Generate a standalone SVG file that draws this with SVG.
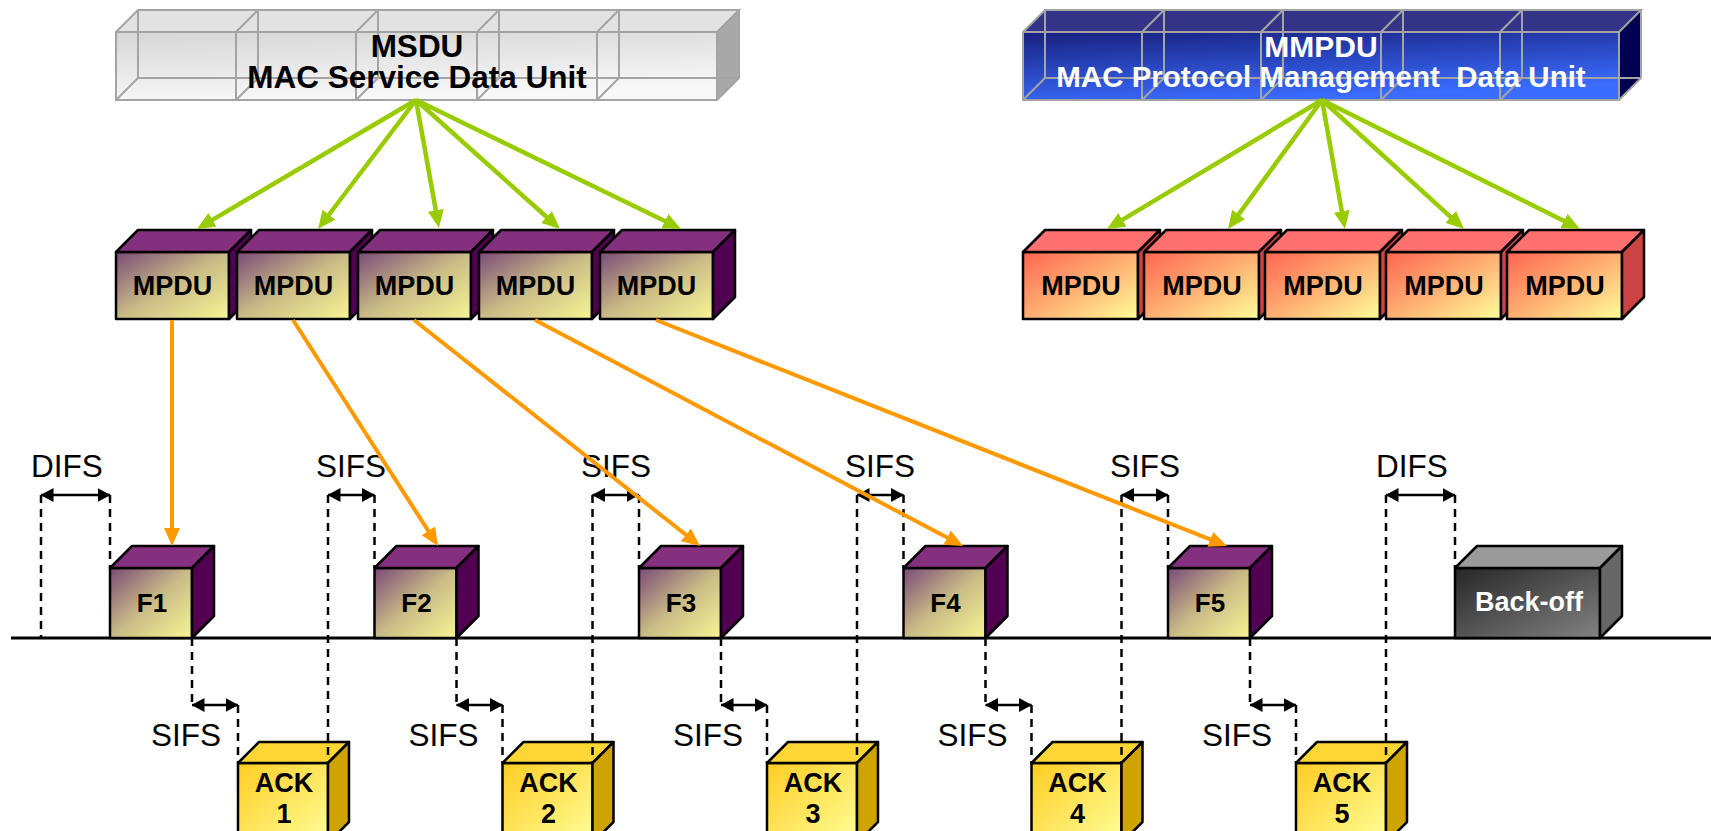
<svg xmlns="http://www.w3.org/2000/svg" width="1711" height="831" viewBox="0 0 1711 831">
<style>
.e{stroke:#000;stroke-width:2.5;stroke-linejoin:round}
.b{font-family:'Liberation Sans',Arial,sans-serif;font-weight:bold;text-anchor:middle}
.t{font-family:'Liberation Sans',Arial,sans-serif;font-size:31.5px;text-anchor:middle;fill:#000}
.dash{stroke:#000;stroke-width:2.5;stroke-dasharray:8 6;fill:none}
.dim{stroke:#000;stroke-width:2.5;fill:none;marker-start:url(#dimA);marker-end:url(#dimA)}
.gr{stroke:#99cc00;stroke-width:4.5;fill:none;marker-end:url(#gA)}
.or{stroke:#ff9900;stroke-width:4;fill:none;marker-end:url(#oA)}
.wire{stroke:#a4a4a4;stroke-width:2;fill:none}
.pf{fill:url(#pF)}.pt{fill:#84307f}.ps{fill:#520052}
.rf{fill:url(#rF)}.rt{fill:#ff7070}.rs{fill:#cc4444}
.af{fill:url(#aF)}.at{fill:#ffd633}.as{fill:#d0a400}
.mp{font-size:27px;fill:#000}
</style>
<defs>
<linearGradient id="pF" x1="0" y1="0" x2="1" y2="1"><stop offset="0" stop-color="#7a4a78"/><stop offset="0.5" stop-color="#c9bb86"/><stop offset="1" stop-color="#f8f594"/></linearGradient>
<linearGradient id="rF" x1="0" y1="0" x2="1" y2="1"><stop offset="0" stop-color="#ff6450"/><stop offset="0.5" stop-color="#ffae72"/><stop offset="1" stop-color="#ffff99"/></linearGradient>
<linearGradient id="aF" x1="0" y1="0" x2="1" y2="1"><stop offset="0" stop-color="#ffcc22"/><stop offset="1" stop-color="#ffff99"/></linearGradient>
<linearGradient id="kF" x1="0" y1="0" x2="1" y2="1"><stop offset="0" stop-color="#262626"/><stop offset="1" stop-color="#828282"/></linearGradient>
<linearGradient id="sF" x1="0" y1="0" x2="0.3" y2="1"><stop offset="0" stop-color="#d6d6d6"/><stop offset="1" stop-color="#f8f8f8"/></linearGradient>
<linearGradient id="mF" x1="0" y1="0" x2="0.4" y2="1"><stop offset="0" stop-color="#18207e"/><stop offset="1" stop-color="#3a6cff"/></linearGradient>
<marker id="gA" markerUnits="userSpaceOnUse" markerWidth="18" markerHeight="16" viewBox="0 0 18 16" refX="8" refY="8" orient="auto"><path d="M0,0L18,8L0,16z" fill="#99cc00"/></marker>
<marker id="oA" markerUnits="userSpaceOnUse" markerWidth="18" markerHeight="16" viewBox="0 0 18 16" refX="8" refY="8" orient="auto"><path d="M0,0L18,8L0,16z" fill="#ff9900"/></marker>
<marker id="dimA" markerUnits="userSpaceOnUse" markerWidth="13" markerHeight="14" viewBox="0 0 13 14" refX="12.5" refY="7" orient="auto-start-reverse"><path d="M0,0L13,7L0,14z" fill="#000"/></marker>
</defs>
<rect width="1711" height="831" fill="#fff"/>

<!-- timeline -->
<g id="timeline"><line x1="11" y1="638" x2="1711" y2="638" stroke="#000" stroke-width="3"/></g>

<!-- MSDU -->
<g id="msdu">
<rect x="116" y="32" width="601" height="68" fill="url(#sF)"/>
<polygon points="116,32 138,10 739,10 717,32" fill="#e2e2e2"/>
<polygon points="717,32 739,10 739,78 717,100" fill="#a8a8a8"/>
<path class="wire" d="M236,32V100M356,32V100M477,32V100M597,32V100M138,10V78M258,10V78M378,10V78M499,10V78M619,10V78M138,78H739M116,100L138,78M236,100L258,78M356,100L378,78M477,100L499,78M597,100L619,78M236,32L258,10M356,32L378,10M477,32L499,10M597,32L619,10"/>
<path class="wire" d="M116,32H717V100H116ZM116,32L138,10H739L717,32M739,10V78L717,100"/>
<text class="b" x="417" y="57" font-size="31.5" fill="#000">MSDU</text>
<text class="b" x="417" y="88" font-size="31.5" fill="#000">MAC Service Data Unit</text>
</g>

<!-- MMPDU -->
<g id="mmpdu">
<rect x="1023" y="32" width="596" height="68" fill="url(#mF)"/>
<polygon points="1023,32 1045,10 1641,10 1619,32" fill="#333388"/>
<polygon points="1619,32 1641,10 1641,78 1619,100" fill="#000050"/>
<path class="wire" d="M1142,32V100M1261,32V100M1381,32V100M1500,32V100M1045,10V78M1164,10V78M1283,10V78M1403,10V78M1522,10V78M1045,78H1641M1023,100L1045,78M1142,100L1164,78M1261,100L1283,78M1381,100L1403,78M1500,100L1522,78M1142,32L1164,10M1261,32L1283,10M1381,32L1403,10M1500,32L1522,10"/>
<path class="wire" d="M1023,32H1619V100H1023ZM1023,32L1045,10H1641L1619,32M1641,10V78L1619,100"/>
<text class="b" x="1321" y="57" font-size="30" fill="#fff">MMPDU</text>
<text class="b" x="1321" y="87" font-size="29.5" fill="#fff" xml:space="preserve">MAC Protocol Management  Data Unit</text>
</g>

<!-- purple MPDUs -->
<g id="mpdu1"><rect class="e pf" x="116" y="252" width="113" height="67"/><polygon class="e pt" points="116,252 138,230 251,230 229,252"/><polygon class="e ps" points="229,252 251,230 251,297 229,319"/><text class="b mp" x="172.5" y="295">MPDU</text></g>
<g id="mpdu2"><rect class="e pf" x="237" y="252" width="113" height="67"/><polygon class="e pt" points="237,252 259,230 372,230 350,252"/><polygon class="e ps" points="350,252 372,230 372,297 350,319"/><text class="b mp" x="293.5" y="295">MPDU</text></g>
<g id="mpdu3"><rect class="e pf" x="358" y="252" width="113" height="67"/><polygon class="e pt" points="358,252 380,230 493,230 471,252"/><polygon class="e ps" points="471,252 493,230 493,297 471,319"/><text class="b mp" x="414.5" y="295">MPDU</text></g>
<g id="mpdu4"><rect class="e pf" x="479" y="252" width="113" height="67"/><polygon class="e pt" points="479,252 501,230 614,230 592,252"/><polygon class="e ps" points="592,252 614,230 614,297 592,319"/><text class="b mp" x="535.5" y="295">MPDU</text></g>
<g id="mpdu5"><rect class="e pf" x="600" y="252" width="113" height="67"/><polygon class="e pt" points="600,252 622,230 735,230 713,252"/><polygon class="e ps" points="713,252 735,230 735,297 713,319"/><text class="b mp" x="656.5" y="295">MPDU</text></g>

<!-- red MPDUs -->
<g id="mm1"><rect class="e rf" x="1023" y="252" width="115" height="67"/><polygon class="e rt" points="1023,252 1045,230 1160,230 1138,252"/><polygon class="e rs" points="1138,252 1160,230 1160,297 1138,319"/><text class="b mp" x="1081" y="295">MPDU</text></g>
<g id="mm2"><rect class="e rf" x="1144" y="252" width="115" height="67"/><polygon class="e rt" points="1144,252 1166,230 1281,230 1259,252"/><polygon class="e rs" points="1259,252 1281,230 1281,297 1259,319"/><text class="b mp" x="1202" y="295">MPDU</text></g>
<g id="mm3"><rect class="e rf" x="1265" y="252" width="115" height="67"/><polygon class="e rt" points="1265,252 1287,230 1402,230 1380,252"/><polygon class="e rs" points="1380,252 1402,230 1402,297 1380,319"/><text class="b mp" x="1323" y="295">MPDU</text></g>
<g id="mm4"><rect class="e rf" x="1386" y="252" width="115" height="67"/><polygon class="e rt" points="1386,252 1408,230 1523,230 1501,252"/><polygon class="e rs" points="1501,252 1523,230 1523,297 1501,319"/><text class="b mp" x="1444" y="295">MPDU</text></g>
<g id="mm5"><rect class="e rf" x="1507" y="252" width="115" height="67"/><polygon class="e rt" points="1507,252 1529,230 1644,230 1622,252"/><polygon class="e rs" points="1622,252 1644,230 1644,297 1622,319"/><text class="b mp" x="1565" y="295">MPDU</text></g>

<!-- frames -->
<g id="f1"><rect class="e pf" x="110" y="568" width="82" height="70"/><polygon class="e pt" points="110,568 132,546 214,546 192,568"/><polygon class="e ps" points="192,568 214,546 214,616 192,638"/><text class="b" font-size="26" x="152" y="612">F1</text></g>
<g id="f2"><rect class="e pf" x="374.5" y="568" width="82" height="70"/><polygon class="e pt" points="374.5,568 396.5,546 478.5,546 456.5,568"/><polygon class="e ps" points="456.5,568 478.5,546 478.5,616 456.5,638"/><text class="b" font-size="26" x="416.5" y="612">F2</text></g>
<g id="f3"><rect class="e pf" x="639" y="568" width="82" height="70"/><polygon class="e pt" points="639,568 661,546 743,546 721,568"/><polygon class="e ps" points="721,568 743,546 743,616 721,638"/><text class="b" font-size="26" x="681" y="612">F3</text></g>
<g id="f4"><rect class="e pf" x="903.5" y="568" width="82" height="70"/><polygon class="e pt" points="903.5,568 925.5,546 1007.5,546 985.5,568"/><polygon class="e ps" points="985.5,568 1007.5,546 1007.5,616 985.5,638"/><text class="b" font-size="26" x="945.5" y="612">F4</text></g>
<g id="f5"><rect class="e pf" x="1168" y="568" width="82" height="70"/><polygon class="e pt" points="1168,568 1190,546 1272,546 1250,568"/><polygon class="e ps" points="1250,568 1272,546 1272,616 1250,638"/><text class="b" font-size="26" x="1210" y="612">F5</text></g>
<g id="backoff"><rect class="e" fill="url(#kF)" x="1455" y="568" width="145" height="70"/><polygon class="e" fill="#9a9a9a" points="1455,568 1477,546 1622,546 1600,568"/><polygon class="e" fill="#666" points="1600,568 1622,546 1622,616 1600,638"/><text class="b" font-size="27" fill="#fff" x="1529" y="611">Back-off</text></g>

<!-- ACKs -->
<g id="ack1"><rect class="e af" x="238" y="763" width="90" height="80"/><polygon class="e at" points="238,763 259,742 349,742 328,763"/><polygon class="e as" points="328,763 349,742 349,822 328,843"/><text class="b" font-size="27" x="284" y="792">ACK</text><text class="b" font-size="27" x="284" y="823">1</text></g>
<g id="ack2"><rect class="e af" x="502.5" y="763" width="90" height="80"/><polygon class="e at" points="502.5,763 523.5,742 613.5,742 592.5,763"/><polygon class="e as" points="592.5,763 613.5,742 613.5,822 592.5,843"/><text class="b" font-size="27" x="548.5" y="792">ACK</text><text class="b" font-size="27" x="548.5" y="823">2</text></g>
<g id="ack3"><rect class="e af" x="767" y="763" width="90" height="80"/><polygon class="e at" points="767,763 788,742 878,742 857,763"/><polygon class="e as" points="857,763 878,742 878,822 857,843"/><text class="b" font-size="27" x="813" y="792">ACK</text><text class="b" font-size="27" x="813" y="823">3</text></g>
<g id="ack4"><rect class="e af" x="1031.5" y="763" width="90" height="80"/><polygon class="e at" points="1031.5,763 1052.5,742 1142.5,742 1121.5,763"/><polygon class="e as" points="1121.5,763 1142.5,742 1142.5,822 1121.5,843"/><text class="b" font-size="27" x="1077.5" y="792">ACK</text><text class="b" font-size="27" x="1077.5" y="823">4</text></g>
<g id="ack5"><rect class="e af" x="1296" y="763" width="90" height="80"/><polygon class="e at" points="1296,763 1317,742 1407,742 1386,763"/><polygon class="e as" points="1386,763 1407,742 1407,822 1386,843"/><text class="b" font-size="27" x="1342" y="792">ACK</text><text class="b" font-size="27" x="1342" y="823">5</text></g>

<!-- timing marks -->
<g id="timing">
<path class="dash" d="M41,495V638M110,495V568M328,495V763M374.5,495V568M592.5,495V763M639,495V568M857,495V763M903.5,495V568M1121.5,495V763M1168,495V568M1386,495V763M1455,495V568"/>
<path class="dash" d="M192,638V705M238,705V763M456.5,638V705M502.5,705V763M721,638V705M767,705V763M985.5,638V705M1031.5,705V763M1250,638V705M1296,705V763"/>
<line class="dim" x1="41" y1="495" x2="110" y2="495"/>
<line class="dim" x1="328" y1="495" x2="374.5" y2="495"/>
<line class="dim" x1="592.5" y1="495" x2="639" y2="495"/>
<line class="dim" x1="857" y1="495" x2="903.5" y2="495"/>
<line class="dim" x1="1121.5" y1="495" x2="1168" y2="495"/>
<line class="dim" x1="1386" y1="495" x2="1455" y2="495"/>
<line class="dim" x1="192" y1="705" x2="238" y2="705"/>
<line class="dim" x1="456.5" y1="705" x2="502.5" y2="705"/>
<line class="dim" x1="721" y1="705" x2="767" y2="705"/>
<line class="dim" x1="985.5" y1="705" x2="1031.5" y2="705"/>
<line class="dim" x1="1250" y1="705" x2="1296" y2="705"/>
<text class="t" x="67" y="477">DIFS</text>
<text class="t" x="351" y="477">SIFS</text>
<text class="t" x="616" y="477">SIFS</text>
<text class="t" x="880" y="477">SIFS</text>
<text class="t" x="1145" y="477">SIFS</text>
<text class="t" x="1412" y="477">DIFS</text>
<text class="t" x="186" y="746">SIFS</text>
<text class="t" x="443.5" y="746">SIFS</text>
<text class="t" x="708" y="746">SIFS</text>
<text class="t" x="972.5" y="746">SIFS</text>
<text class="t" x="1237" y="746">SIFS</text>
</g>

<!-- connectors -->
<g id="connectors">
<line class="gr" x1="416" y1="100" x2="205.6" y2="223.9"/>
<line class="gr" x1="416" y1="100" x2="324.1" y2="221"/>
<line class="gr" x1="416" y1="100" x2="437.2" y2="218.2"/>
<line class="gr" x1="416" y1="100" x2="552.5" y2="222.3"/>
<line class="gr" x1="416" y1="100" x2="672" y2="224.6"/>
<line class="gr" x1="1322" y1="100" x2="1115.6" y2="223.9"/>
<line class="gr" x1="1322" y1="100" x2="1233.9" y2="220.9"/>
<line class="gr" x1="1322" y1="100" x2="1343.2" y2="219.2"/>
<line class="gr" x1="1322" y1="100" x2="1456.6" y2="222.3"/>
<line class="gr" x1="1322" y1="100" x2="1571.1" y2="224.5"/>
<line class="or" x1="172" y1="320" x2="172" y2="536"/>
<line class="or" x1="293" y1="320" x2="432.6" y2="537.6"/>
<line class="or" x1="414" y1="320" x2="692.2" y2="539.8"/>
<line class="or" x1="535" y1="320" x2="954.2" y2="541.3"/>
<line class="or" x1="656" y1="320" x2="1217.7" y2="542.3"/>
</g>
</svg>
